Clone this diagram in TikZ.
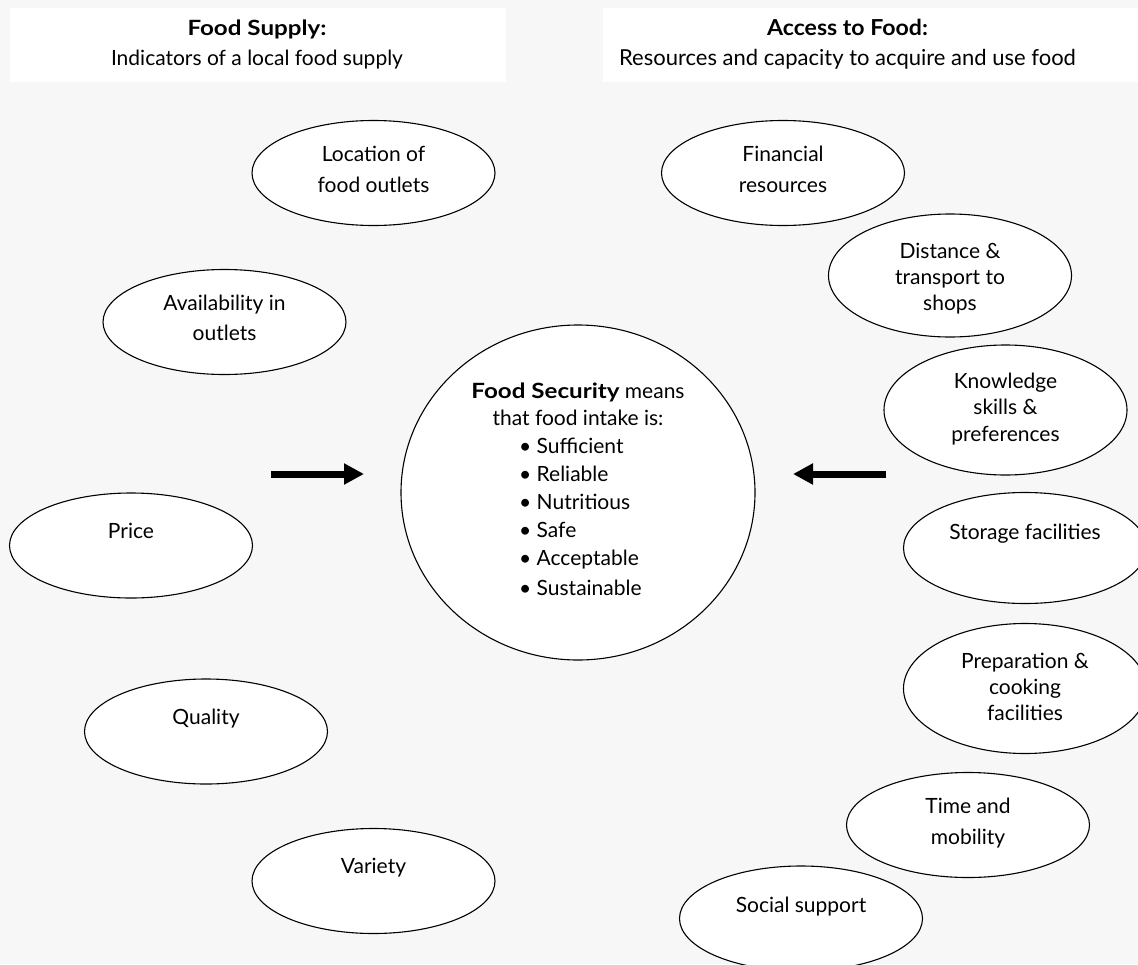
\documentclass[tikz,border=0pt]{standalone}
\usepackage{fontspec}
\setmainfont{Lato}
\usepackage{graphicx}
\usetikzlibrary{shapes.geometric,arrows.meta}
\definecolor{bgc}{RGB}{247,247,247}
\tikzset{
  oval/.style={ellipse, draw=black, line width=1.1pt, fill=white, minimum width=243pt, minimum height=105pt, inner sep=0pt},
  txt/.style={inner sep=0pt, align=center, anchor=base, font=\fontsize{21}{31}\selectfont},
  txtb/.style={txt, font=\fontsize{21}{26}\selectfont},
  hdr/.style={inner sep=0pt, align=center, anchor=base, font=\fontsize{21}{29.5}\selectfont},
  hbox/.style={fill=white, draw=none},
  bigarrow/.style={line width=7pt, -{Triangle[length=20pt,width=20pt]}},
}
\newcommand{\widebf}[2][1.15]{\scalebox{#1}[1]{\textbf{#2}}}
\newcommand{\itm}{\makebox[17.5pt][l]{\textbullet}}
\begin{document}
\begin{tikzpicture}[x=1pt,y=-1pt]
\fill[bgc] (0,0) rectangle (1138,964);
\useasboundingbox (0,0) rectangle (1138,964);
% headers
\fill[hbox] (10,8) rectangle (506,82);
\fill[hbox] (603,8) rectangle (1138,82);
\node[hdr] (h1) at (257,65) {\widebf{Food Supply:}\\Indicators of a local food supply};
\node[hdr, font=\fontsize{22}{29.5}\selectfont] (h2) at (847.5,65) {\widebf[1.05]{Access to Food:}\\Resources and capacity to acquire and use food};
% left ovals
\node[oval] (loc) at (373.5,173) {};
\node[txt] (loc-t) at (373.5,192) {Location of\\food outlets};
\node[oval] (avail) at (224.5,322) {};
\node[txt, font=\fontsize{21}{30}\selectfont] (avail-t) at (224.5,340.5) {Availability in\\outlets};
\node[oval] (price) at (131,545.5) {};
\node[txt] (price-t) at (131,538) {Price};
\node[oval] (qual) at (206,731.5) {};
\node[txt] (qual-t) at (206,724) {Quality};
\node[oval] (var) at (373.5,881) {};
\node[txt] (var-t) at (373.5,873) {Variety};
% right ovals
\node[oval] (fin) at (783,173) {};
\node[txt] (fin-t) at (783,192) {Financial\\resources};
\node[oval, minimum height=123pt] (dist) at (950,275.5) {};
\node[txtb] (dist-t) at (950,310) {Distance \&\\transport to\\shops};
\node[oval, minimum height=130pt] (know) at (1005.5,410) {};
\node[txtb, font=\fontsize{21}{26.5}\selectfont] (know-t) at (1005.5,441) {Knowledge\\skills \&\\preferences};
\node[oval, minimum height=111pt] (stor) at (1025,548) {};
\node[txt] (stor-t) at (1025,539) {Storage facilities};
\node[oval, minimum height=130pt] (prep) at (1025,688.5) {};
\node[txtb] (prep-t) at (1025,720) {Preparation \&\\cooking\\facilities};
\node[oval] (time) at (968,825) {};
\node[txt] (time-t) at (968,844) {Time and\\mobility};
\node[oval] (soc) at (801,918.5) {};
\node[txt] (soc-t) at (801,912) {Social support};
% centre
\node[ellipse, draw=black, line width=1.1pt, fill=white, minimum width=354pt, minimum height=335pt, inner sep=0pt] (fs) at (578,492.5) {};
\node[txt, font=\fontsize{21}{27.5}\selectfont] (fs-head) at (578,425.5) {\widebf{Food Security} means\\that food intake is:};
\node[txt, align=left, anchor=base west, font=\fontsize{21}{28}\selectfont] (fs-list) at (519,595.5) {%
\itm Sufficient\\
\itm Reliable\\
\itm Nutritious\\
\itm Safe\\
\itm Acceptable\\[2pt]
\itm Sustainable};
% arrows
\coordinate (la1) at (271,474);
\coordinate (la2) at (364,474);
\coordinate (ra1) at (886,474);
\coordinate (ra2) at (793,474);
\draw[bigarrow] (la1) -- (la2);
\draw[bigarrow] (ra1) -- (ra2);
\end{tikzpicture}
\end{document}
